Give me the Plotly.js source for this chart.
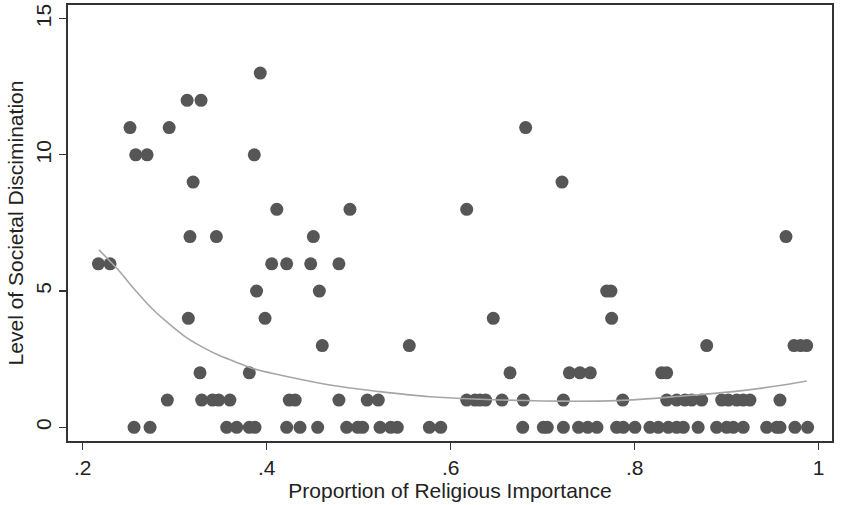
<!DOCTYPE html>
<html>
<head>
<meta charset="utf-8">
<script src="https://cdn.plot.ly/plotly-3.0.1.min.js"></script>
<style>html,body{margin:0;padding:0;background:#fff;}#chart{width:843px;height:505px;}</style>
</head>
<body>
<div id="chart"></div>
<script>
// Scatter points: proportion of religious importance (x) and level of societal discrimination (y)
const religiousImportance = [
  0.393,
  0.3135, 0.3286,
  0.2514, 0.294, 0.6815,
  0.2576, 0.270, 0.3865,
  0.320, 0.721,
  0.411, 0.4905, 0.6174,
  0.3166, 0.3453, 0.4507, 0.9645,
  0.217, 0.2297, 0.4054, 0.4217, 0.4478, 0.4785,
  0.389, 0.4572, 0.7696, 0.7742,
  0.3148, 0.3982, 0.6463, 0.775,
  0.4604, 0.555, 0.8783, 0.9732, 0.9804, 0.987,
  0.3275, 0.3811, 0.6645, 0.729, 0.7405, 0.7518, 0.8293, 0.8348,
  0.292, 0.3293, 0.341, 0.3478, 0.360, 0.4245, 0.431, 0.4785, 0.5093, 0.5213,
  0.6174, 0.6264, 0.6318, 0.638, 0.6558, 0.679, 0.7225, 0.787, 0.8348, 0.8457,
  0.8547, 0.862, 0.8728, 0.8946, 0.9018, 0.9109, 0.918, 0.9253, 0.9579,
  0.2558, 0.2732, 0.3565, 0.3674, 0.3811, 0.3873, 0.4217, 0.4362, 0.4554, 0.4869,
  0.4989, 0.5043, 0.5232, 0.5348, 0.542, 0.5768, 0.5892, 0.6783, 0.7007, 0.705,
  0.7225, 0.739, 0.749, 0.759, 0.7804, 0.7876, 0.8003, 0.8166, 0.8257, 0.8366,
  0.8457, 0.8529, 0.869, 0.8891, 0.9, 0.9072, 0.918, 0.9435, 0.9544, 0.958,
  0.9742, 0.988
];
const societalDiscrimination = [
  13,
  12, 12,
  11, 11, 11,
  10, 10, 10,
  9, 9,
  8, 8, 8,
  7, 7, 7, 7,
  6, 6, 6, 6, 6, 6,
  5, 5, 5, 5,
  4, 4, 4, 4,
  3, 3, 3, 3, 3, 3,
  2, 2, 2, 2, 2, 2, 2, 2,
  1, 1, 1, 1, 1, 1, 1, 1, 1, 1,
  1, 1, 1, 1, 1, 1, 1, 1, 1, 1,
  1, 1, 1, 1, 1, 1, 1, 1, 1,
  0, 0, 0, 0, 0, 0, 0, 0, 0, 0,
  0, 0, 0, 0, 0, 0, 0, 0, 0, 0,
  0, 0, 0, 0, 0, 0, 0, 0, 0, 0,
  0, 0, 0, 0, 0, 0, 0, 0, 0, 0,
  0, 0
];
// Fitted curve
const fitX = [0.2177, 0.2387, 0.2569, 0.275, 0.293, 0.3112, 0.3293, 0.3474, 0.3655, 0.3837, 0.4145, 0.4688, 0.5232, 0.5775, 0.6318, 0.686, 0.719, 0.7804, 0.8529, 0.907, 0.9615, 0.987];
const fitY = [6.51, 5.77, 5.04, 4.37, 3.82, 3.33, 2.96, 2.65, 2.41, 2.17, 1.92, 1.55, 1.31, 1.12, 1.03, 0.98, 0.96, 0.98, 1.15, 1.31, 1.55, 1.70];
// Axis ticks
const xTickVals = [0.2, 0.4, 0.6, 0.8, 1];
const xTickText = ['.2', '.4', '.6', '.8', '1'];
const yTickVals = [0, 5, 10, 15];
const yTickText = ['0', '5', '10', '15'];

const font = 'Liberation Sans, Arial, sans-serif';
const traces = [
  {
    x: religiousImportance, y: societalDiscrimination,
    type: 'scatter', mode: 'markers',
    marker: {size: 13, color: '#565656', line: {width: 0}},
    hoverinfo: 'x+y'
  },
  {
    x: fitX, y: fitY,
    type: 'scatter', mode: 'lines',
    line: {color: '#a6a6a6', width: 1.6, shape: 'spline'},
    hoverinfo: 'skip'
  }
];
const axisCommon = {
  showgrid: false, zeroline: false,
  showline: true, mirror: true, linecolor: '#333', linewidth: 1.6,
  ticks: 'outside', ticklen: 7, tickwidth: 1.2, tickcolor: '#333',
  tickfont: {family: font, size: 21, color: '#222'}
};
const layout = {
  width: 843, height: 505,
  margin: {l: 68, r: 11, t: 5, b: 64},
  paper_bgcolor: '#ffffff', plot_bgcolor: '#ffffff',
  showlegend: false,
  xaxis: Object.assign({}, axisCommon, {
    range: [0.184, 1.0145],
    tickmode: 'array', tickvals: xTickVals, ticktext: xTickText,
    title: {text: 'Proportion of Religious Importance', font: {family: font, size: 21, color: '#222'}, standoff: 0}
  }),
  yaxis: Object.assign({}, axisCommon, {
    range: [-0.503, 15.5],
    tickmode: 'array', tickvals: yTickVals, ticktext: yTickText,
    tickangle: -90,
    title: {text: 'Level of Societal Discimination', font: {family: font, size: 21, color: '#222'}, standoff: 2}
  })
};
Plotly.newPlot('chart', traces, layout, {displayModeBar: false, staticPlot: true});
</script>
</body>
</html>
